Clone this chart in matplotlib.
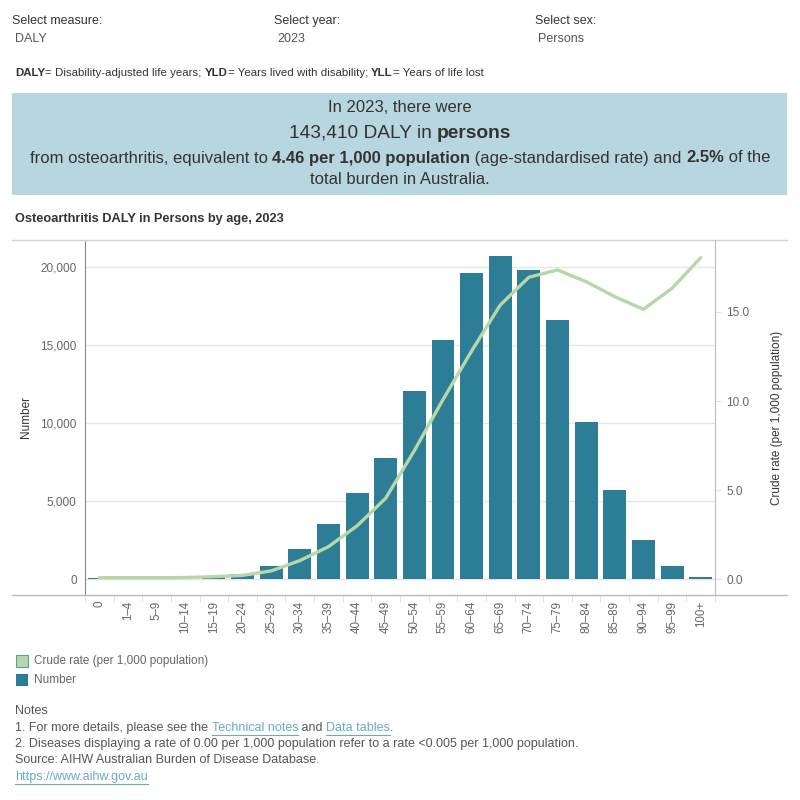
import matplotlib
matplotlib.use('Agg')
import matplotlib.pyplot as plt
from matplotlib.patches import Rectangle
from matplotlib.lines import Line2D
import numpy as np

# 데이터
age_groups = ['0', '1–4', '5–9', '10–14', '15–19', '20–24', '25–29', '30–34', '35–39',
              '40–44', '45–49', '50–54', '55–59', '60–64', '65–69', '70–74', '75–79',
              '80–84', '85–89', '90–94', '95–99', '100+']
daly_number = [100, 30, 30, 40, 150, 360, 870, 1940, 3540, 5530, 7770, 12080, 15340,
               19630, 20750, 19830, 16620, 10080, 5720, 2520, 850, 150]
crude_rate = [0.09, 0.09, 0.09, 0.10, 0.15, 0.22, 0.47, 1.05, 1.83, 3.00, 4.55, 7.22, 10.08,
              12.81, 15.39, 16.95, 17.36, 16.70, 15.86, 15.15, 16.33, 18.05]
left_ticks = [0, 5000, 10000, 15000, 20000]
right_ticks = [0, 5, 10, 15]

BAR_COLOR = '#2d7d96'
LINE_COLOR = '#b6d7a8'
BANNER_COLOR = '#b8d6df'
TEXT_COLOR = '#333333'
GREY = '#666666'

plt.rcParams['font.family'] = ['Liberation Sans', 'DejaVu Sans']

W, H = 800, 800
fig = plt.figure(figsize=(8, 8), dpi=100)
renderer = fig.canvas.get_renderer()


def px(x, y):
    return x / W, 1 - y / H


def text_width(s, size, weight):
    # 앞뒤 공백까지 포함한 폭 (x 글자를 붙여서 잰 뒤 뺀다)
    a = fig.text(0, 0, 'x' + s + 'x', fontsize=size, fontweight=weight)
    b = fig.text(0, 0, 'xx', fontsize=size, fontweight=weight)
    w = a.get_window_extent(renderer).width - b.get_window_extent(renderer).width
    a.remove()
    b.remove()
    return w


def rich(x, y, parts, size, ha='center', color=TEXT_COLOR):
    # 굵은 글씨와 보통 글씨를 이어서 그리기
    widths = [text_width(s, size, w) for s, w in parts]
    total = sum(widths)
    x0 = x - total / 2 if ha == 'center' else x
    for (s, w), wd in zip(parts, widths):
        fig.text(x0 / W, 1 - y / H, s, fontsize=size, fontweight=w, color=color,
                 va='center', ha='left')
        x0 += wd
    return x0


# 상단 선택 항목
for x, label, value in [(12, 'Select measure:', 'DALY'), (274, 'Select year:', '2023'),
                        (535, 'Select sex:', 'Persons')]:
    fig.text(*px(x, 21), label, fontsize=9, color=TEXT_COLOR, va='center')
    fig.text(*px(x + 3, 39), value, fontsize=9, color='#555555', va='center')

rich(15, 73, [('DALY', 'bold'), ('= Disability-adjusted life years; ', 'normal'),
              ('YLD', 'bold'), ('= Years lived with disability; ', 'normal'),
              ('YLL', 'bold'), ('= Years of life lost', 'normal')], 8.25, ha='left')

# 요약 배너
fig.patches.append(Rectangle(px(12, 195), 775 / W, 102 / H, transform=fig.transFigure,
                             facecolor=BANNER_COLOR, edgecolor='none'))
rich(400, 107, [('In 2023, there were', 'normal')], 12)
rich(400, 133, [('143,410 DALY in ', 'normal'), ('persons', 'bold')], 13.8)
rich(400, 158, [('from osteoarthritis, equivalent to ', 'normal'),
                ('4.46 per 1,000 population', 'bold'),
                (' (age-standardised rate) and ', 'normal'), ('2.5%', 'bold'),
                (' of the', 'normal')], 12)
rich(400, 180, [('total burden in Australia.', 'normal')], 12)

fig.text(*px(15, 219), 'Osteoarthritis DALY in Persons by age, 2023', fontsize=9.2,
         fontweight='bold', color=TEXT_COLOR, va='center')

# 차트
ax1 = fig.add_axes([85 / W, 1 - 595 / H, 630 / W, 355 / H])
x = np.arange(len(age_groups))
ax1.bar(x, daly_number, width=0.8, color=BAR_COLOR, zorder=2)
ax1.set_xlim(-0.5, len(age_groups) - 0.5)
ax1.set_ylim(-1006, 21750)
ax1.set_yticks(left_ticks)
ax1.set_yticklabels([f'{v:,}' for v in left_ticks])
ax1.grid(axis='y', color='#e6e6e6', linewidth=1, zorder=0)
ax1.axhline(0, color='#bbbbbb', linestyle=(0, (1, 3)), linewidth=1, zorder=1)
ax1.set_xticks(x)
ax1.set_xticklabels(age_groups, rotation=90, va='top', ha='center')
ax1.set_xticks(np.arange(-0.5, len(age_groups), 1), minor=True)
ax1.tick_params(axis='x', which='major', length=0, pad=4, labelsize=8.3, labelcolor=GREY)
ax1.tick_params(axis='x', which='minor', length=5, color='#dddddd')
ax1.tick_params(axis='y', length=0, pad=6, labelsize=8.5, labelcolor=GREY)
ax1.set_ylabel('Number', fontsize=8.5, color=TEXT_COLOR, labelpad=6)
for s in ['top', 'right', 'bottom']:
    ax1.spines[s].set_visible(False)
ax1.spines['left'].set_color('#888888')

ax2 = ax1.twinx()
ax2.plot(x, crude_rate, color=LINE_COLOR, linewidth=2.4, zorder=3, solid_capstyle='round')
ax2.set_ylim(-0.88, 19.04)
ax2.set_yticks(right_ticks)
ax2.set_yticklabels([f'{v:.1f}' for v in right_ticks])
ax2.tick_params(axis='y', length=4, color='#dddddd', pad=4, labelsize=8.5, labelcolor=GREY)
ax2.set_ylabel('Crude rate (per 1,000 population)', fontsize=8.5, color=TEXT_COLOR,
               labelpad=16)
for s in ['top', 'left', 'bottom']:
    ax2.spines[s].set_visible(False)
ax2.spines['right'].set_color('#bbbbbb')
ax1.set_zorder(1)
ax2.set_zorder(2)
ax2.patch.set_visible(False)

# 테두리 선
for yy, c in [(240, '#d4d4d4'), (595, '#bbbbbb')]:
    fig.add_artist(Line2D([12 / W, 787 / W], [1 - yy / H] * 2, color=c, linewidth=1,
                          transform=fig.transFigure))

# 범례
fig.patches.append(Rectangle(px(16, 667), 12 / W, 12 / H, transform=fig.transFigure,
                             facecolor=LINE_COLOR, edgecolor='#5f9aa6', linewidth=0.8))
fig.text(*px(34, 661), 'Crude rate (per 1,000 population)', fontsize=8.5, color=GREY,
         va='center')
fig.patches.append(Rectangle(px(16, 686), 12 / W, 12 / H, transform=fig.transFigure,
                             facecolor=BAR_COLOR, edgecolor='none'))
fig.text(*px(34, 680), 'Number', fontsize=8.5, color=GREY, va='center')

# 주석
NOTE = '#555555'
LINK = '#6aaac4'
fig.text(*px(15, 711), 'Notes', fontsize=9, color=NOTE, va='center')
x0 = rich(15, 728, [('1. For more details, please see the ', 'normal')], 9, ha='left',
          color=NOTE)
for s, c in [('Technical notes', LINK), (' and ', NOTE), ('Data tables', LINK), ('.', NOTE)]:
    fig.text(*px(x0, 728), s, fontsize=9, color=c, va='center')
    wd = text_width(s, 9, 'normal')
    if c == LINK:
        fig.add_artist(Line2D([x0 / W, (x0 + wd) / W], [1 - 734.5 / H] * 2, color=LINK,
                              linewidth=0.8, transform=fig.transFigure))
    x0 += wd
fig.text(*px(15, 744), '2. Diseases displaying a rate of 0.00 per 1,000 population refer to a '
         'rate <0.005 per 1,000 population.', fontsize=9, color=NOTE, va='center')
fig.text(*px(15, 760), 'Source: AIHW Australian Burden of Disease Database.', fontsize=9,
         color=NOTE, va='center')
t = fig.text(*px(15, 777), 'https://www.aihw.gov.au', fontsize=9, color=LINK, va='center')
bb = t.get_window_extent(renderer)
fig.add_artist(Line2D([15 / W, (15 + bb.width) / W], [1 - 783.5 / H] * 2, color=LINK,
                      linewidth=0.8, transform=fig.transFigure))

fig.savefig('out.png', dpi=100)
